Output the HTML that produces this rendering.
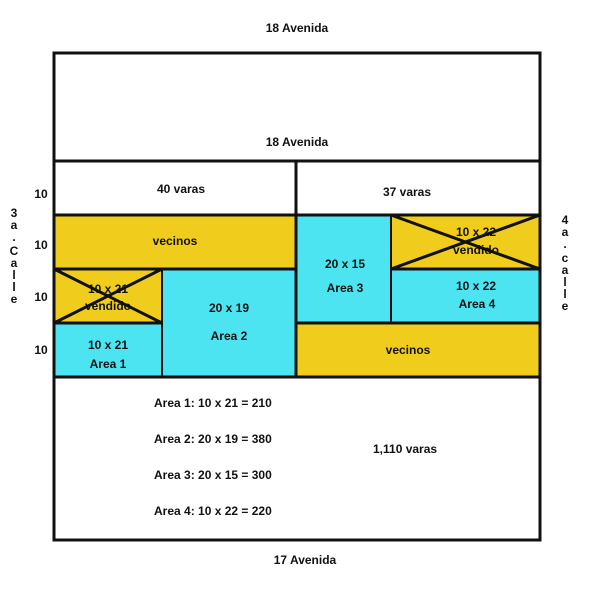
<!DOCTYPE html>
<html><head><style>
body{margin:0;background:#fff;}
svg text{font-family:"Liberation Sans",Arial,sans-serif;font-weight:bold;font-size:12px;fill:#111;}
</style></head><body>
<svg width="600" height="600" viewBox="0 0 600 600" xmlns="http://www.w3.org/2000/svg">
<rect x="0" y="0" width="600" height="600" fill="#fff"/>
<!-- fills -->
<rect x="54" y="215" width="242" height="54" fill="#f0cd1c"/>
<rect x="54" y="269" width="108" height="54" fill="#f0cd1c"/>
<rect x="54" y="323" width="108" height="54" fill="#4de4f2"/>
<rect x="162" y="269" width="134" height="108" fill="#4de4f2"/>
<rect x="296" y="215" width="95" height="108" fill="#4de4f2"/>
<rect x="391" y="215" width="149" height="54" fill="#f0cd1c"/>
<rect x="391" y="269" width="149" height="54" fill="#4de4f2"/>
<rect x="296" y="323" width="244" height="54" fill="#f0cd1c"/>
<!-- lines -->
<g stroke="#111" stroke-width="3" fill="none">
<rect x="54" y="53" width="486" height="487"/>
<line x1="54" y1="161" x2="540" y2="161"/>
<line x1="54" y1="215" x2="540" y2="215"/>
<line x1="54" y1="269" x2="296" y2="269"/>
<line x1="391" y1="269" x2="540" y2="269"/>
<line x1="54" y1="323" x2="162" y2="323"/>
<line x1="296" y1="323" x2="540" y2="323"/>
<line x1="54" y1="377" x2="540" y2="377"/>
<line x1="296" y1="161" x2="296" y2="377"/>
<line x1="162" y1="269" x2="162" y2="377" stroke-width="2"/>
<line x1="391" y1="215" x2="391" y2="323" stroke-width="2"/>
<line x1="54" y1="269" x2="162" y2="323"/>
<line x1="54" y1="323" x2="162" y2="269"/>
<line x1="391" y1="215" x2="540" y2="269"/>
<line x1="391" y1="269" x2="540" y2="215"/>
</g>
<text x="297" y="32" text-anchor="middle">18 Avenida</text>
<text x="297" y="146" text-anchor="middle">18 Avenida</text>
<text x="181" y="193" text-anchor="middle">40 varas</text>
<text x="407" y="196" text-anchor="middle">37 varas</text>
<text x="175" y="245" text-anchor="middle">vecinos</text>
<text x="108" y="293" text-anchor="middle" fill="#333">10 x 21</text>
<text x="108" y="310" text-anchor="middle" fill="#333">vendido</text>
<text x="108" y="349" text-anchor="middle">10 x 21</text>
<text x="108" y="368" text-anchor="middle">Area 1</text>
<text x="229" y="312" text-anchor="middle">20 x 19</text>
<text x="229" y="340" text-anchor="middle">Area 2</text>
<text x="345" y="268" text-anchor="middle">20 x 15</text>
<text x="345" y="292" text-anchor="middle">Area 3</text>
<text x="476" y="236" text-anchor="middle" fill="#333">10 x 22</text>
<text x="476" y="254" text-anchor="middle" fill="#333">vendido</text>
<text x="476" y="290" text-anchor="middle">10 x 22</text>
<text x="477" y="308" text-anchor="middle">Area 4</text>
<text x="408" y="354" text-anchor="middle">vecinos</text>
<text x="41" y="198" text-anchor="middle">10</text>
<text x="41" y="249" text-anchor="middle">10</text>
<text x="41" y="301" text-anchor="middle">10</text>
<text x="41" y="354" text-anchor="middle">10</text>
<g text-anchor="middle">
<text x="14" y="217">3</text><text x="14" y="229">a</text><text x="14" y="241">.</text><text x="14" y="255">C</text><text x="14" y="267">a</text><text x="14" y="279">l</text><text x="14" y="291">l</text><text x="14" y="303">e</text>
<text x="565" y="224">4</text><text x="565" y="236">a</text><text x="565" y="248">.</text><text x="565" y="262">c</text><text x="565" y="274">a</text><text x="565" y="286">l</text><text x="565" y="298">l</text><text x="565" y="310">e</text>
</g>
<text x="154" y="407">Area 1: 10 x 21 = 210</text>
<text x="154" y="443">Area 2: 20 x 19 = 380</text>
<text x="154" y="479">Area 3: 20 x 15 = 300</text>
<text x="154" y="515">Area 4: 10 x 22 = 220</text>
<text x="373" y="453">1,110 varas</text>
<text x="305" y="564" text-anchor="middle">17 Avenida</text>
</svg>
</body></html>
